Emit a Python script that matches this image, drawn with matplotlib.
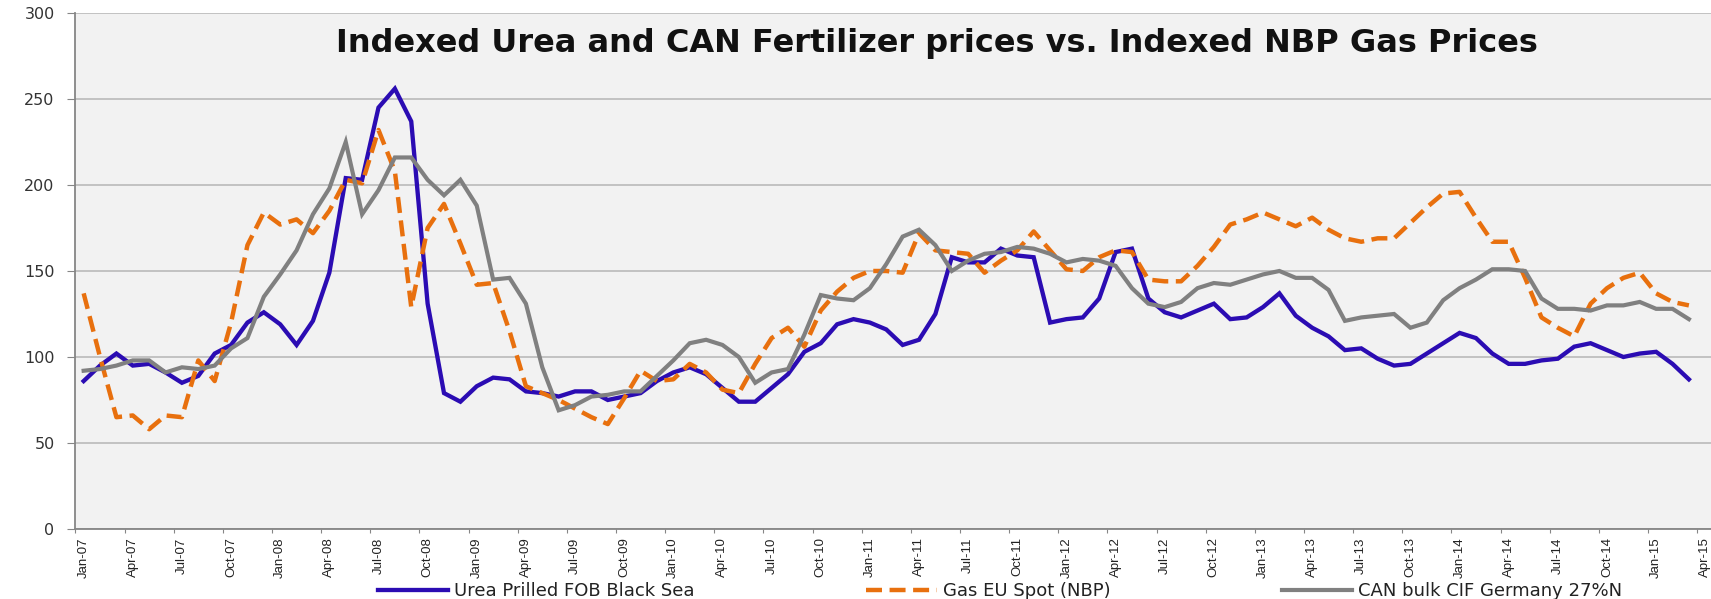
import numpy as np
import matplotlib
matplotlib.use("Agg")
import matplotlib.pyplot as plt

# month labels Jan-07 .. Apr-15
months = ["Jan", "Feb", "Mar", "Apr", "May", "Jun",
          "Jul", "Aug", "Sep", "Oct", "Nov", "Dec"]
labels = [f"{m}-{y:02d}" for y in range(7, 16) for m in months][:100]

# indexed prices (Jan-07 .. Mar-15)
urea = [86, 95, 102, 95, 96, 91, 85, 89, 102, 107, 120, 126,
        119, 107, 121, 149, 204, 203, 245, 256, 237, 131, 79, 74,
        83, 88, 87, 80, 79, 77, 80, 80, 75, 77, 79, 86,
        91, 94, 90, 82, 74, 74, 82, 90, 103, 108, 119, 122,
        120, 116, 107, 110, 125, 158, 155, 155, 163, 159, 158, 120,
        122, 123, 134, 161, 163, 134, 126, 123, 127, 131, 122, 123,
        129, 137, 124, 117, 112, 104, 105, 99, 95, 96, 102, 108,
        114, 111, 102, 96, 96, 98, 99, 106, 108, 104, 100, 102,
        103, 96, 87]

gas = [137, 100, 65, 66, 58, 66, 65, 98, 86, 120, 165, 184,
       177, 180, 172, 185, 203, 201, 232, 208, 129, 175, 189, 166,
       142, 143, 115, 83, 79, 75, 70, 65, 61, 76, 92, 86,
       87, 96, 91, 81, 79, 96, 111, 117, 106, 127, 138, 146,
       150, 150, 149, 172, 162, 161, 160, 149, 156, 162, 173, 162,
       151, 150, 158, 162, 161, 145, 144, 144, 153, 164, 177, 180,
       184, 180, 176, 181, 174, 169, 167, 169, 169, 178, 187, 195,
       196, 181, 167, 167, 146, 123, 117, 112, 131, 140, 146, 149,
       137, 132, 130]

can = [92, 93, 95, 98, 98, 91, 94, 93, 95, 105, 111, 135,
       148, 162, 183, 198, 225, 183, 197, 216, 216, 203, 194, 203,
       188, 145, 146, 131, 94, 69, 72, 77, 78, 80, 80, 89,
       98, 108, 110, 107, 100, 85, 91, 93, 113, 136, 134, 133,
       140, 154, 170, 174, 165, 150, 156, 160, 161, 164, 163, 160,
       155, 157, 156, 153, 140, 131, 129, 132, 140, 143, 142, 145,
       148, 150, 146, 146, 139, 121, 123, 124, 125, 117, 120, 133,
       140, 145, 151, 151, 150, 134, 128, 128, 127, 130, 130, 132,
       128, 128, 122]

names = ["Urea Prilled FOB Black Sea", "Gas EU Spot (NBP)",
         "CAN bulk CIF Germany 27%N"]
title = "Indexed Urea and CAN Fertilizer prices vs. Indexed NBP Gas Prices"

x_urea = np.arange(len(urea))
x_gas = np.arange(len(gas))
x_can = np.arange(len(can))

fig = plt.figure(figsize=(17.11, 5.99), dpi=100)
ax = fig.add_axes([0.0441, 0.1169, 0.9559, 0.8614])
ax.set_facecolor("#f2f2f2")

l1, = ax.plot(x_urea, urea, color="#2b0cb3", lw=3.1, solid_joinstyle="miter")
l2, = ax.plot(x_gas, gas, color="#e8700e", lw=3.2, dashes=(3.6, 1.7))
l3, = ax.plot(x_can, can, color="#808080", lw=3.0, solid_joinstyle="miter")

# axes limits
ax.set_ylim(0, 300)
ax.set_xlim(-0.5, 99.35)

# y axis
ax.set_yticks(np.arange(0, 301, 50))
ax.tick_params(axis="y", length=6, color="#868686", labelsize=11.5,
               pad=9, labelcolor="#333333")
ax.grid(axis="y", color="#bfbfbf", lw=1.3)
ax.set_axisbelow(True)

# x axis: ticks at category boundaries, labels at category centres
ax.set_xticks(np.arange(-0.5, 100, 3))
ax.set_xticklabels([])
ax.set_xticks(np.arange(0, 100, 3), minor=True)
ax.set_xticklabels(labels[::3], minor=True, rotation=90,
                   fontfamily="Liberation Sans", fontsize=9.5,
                   color="#222222")
ax.tick_params(axis="x", which="major", length=3, color="#868686")
ax.tick_params(axis="x", which="minor", length=0, pad=6)

for s in ["top", "right"]:
    ax.spines[s].set_visible(False)
for s in ["left", "bottom"]:
    ax.spines[s].set_color("#868686")
    ax.spines[s].set_linewidth(1.3)

ax.text(0.527, 0.94, title, transform=ax.transAxes, ha="center",
        va="center", fontsize=23, fontweight="bold", color="#111111")

fig.legend([l1, l2, l3], names, loc="center", bbox_to_anchor=(0.5845, 0.013),
           ncol=3, frameon=False, fontsize=13, handlelength=3.9,
           handletextpad=0.33, columnspacing=9.5, labelcolor="#222222")

fig.savefig("out.png", dpi=100)
